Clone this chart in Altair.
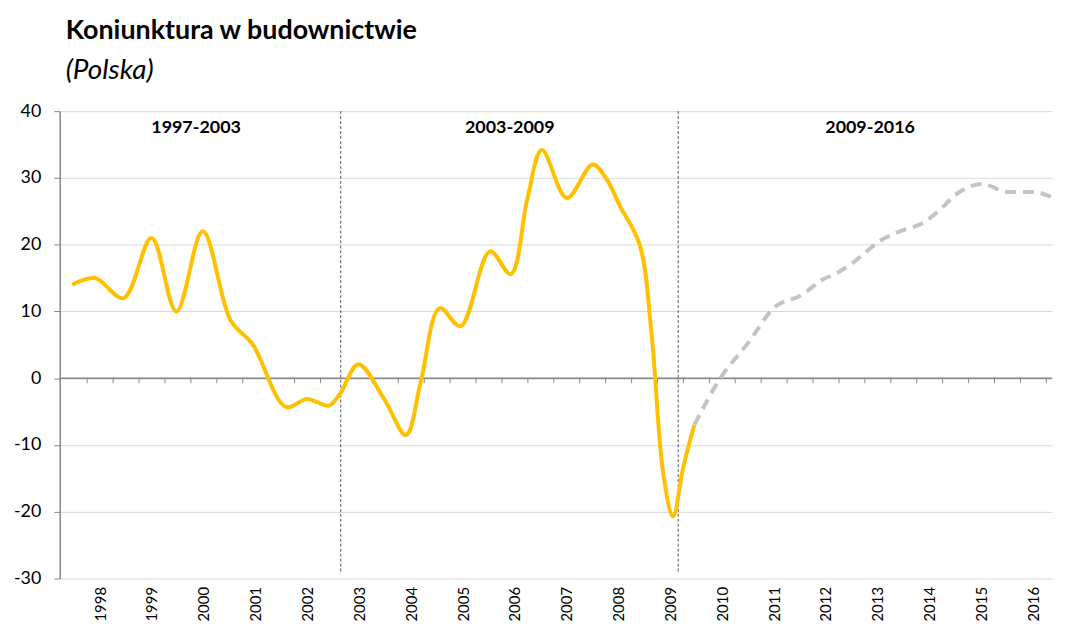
import altair as alt
import pandas as pd

# ---- data ----
title_text = "Koniunktura w budownictwie"
subtitle_text = "(Polska)"

actual_x = [1997.46, 1997.90, 1998.45, 1998.99, 1999.47, 1999.98, 2000.52, 2000.94,
            2001.58, 2001.99, 2002.41, 2002.63, 2002.98, 2003.49, 2003.90, 2004.19,
            2004.55, 2004.95, 2005.52, 2005.92, 2006.24, 2006.52, 2007.00, 2007.50,
            2007.77, 2008.02, 2008.41, 2008.63, 2008.86, 2009.05, 2009.25, 2009.46]
actual_y = [14.0, 15.0, 12.0, 21.0, 10.0, 22.0, 8.6, 5.1,
            -4.3, -3.1, -4.1, -2.3, 2.1, -3.3, -8.5, -0.3,
            10.5, 7.8, 19.0, 15.6, 26.9, 34.2, 27.0, 32.0,
            29.8, 25.9, 19.9, 7.1, -14.2, -20.7, -13.2, -7.0]

forecast_x = [2009.46, 2009.97, 2010.50, 2010.99, 2011.54, 2011.92, 2012.20, 2012.50,
              2013.07, 2013.39, 2013.90, 2014.22, 2014.47, 2015.02, 2015.50, 2016.00,
              2016.36]
forecast_y = [-7.0, 0.1, 5.3, 10.5, 12.5, 14.7, 15.7, 17.2,
              20.7, 21.9, 23.4, 25.4, 27.3, 29.1, 27.9, 27.9,
              27.1]

period_labels = ["1997-2003", "2003-2009", "2009-2016"]
period_x = [1999.85, 2005.90, 2012.85]
period_y = [37.5, 37.5, 37.5]

divider_x = [2002.64, 2009.15]

x_domain = [1997.22, 2016.36]
y_domain = [-30, 40]

year_ticks = list(range(1998, 2017))
half_ticks = [y + d for y in range(1997, 2017) for d in (0.75, 1.25)
              if y + d < x_domain[1]]
y_ticks = [-30, -20, -10, 0, 10, 20, 30, 40]

# ---- tables ----
df_actual = pd.DataFrame({"x": actual_x, "y": actual_y})
df_fc = pd.DataFrame({"x": forecast_x, "y": forecast_y})
df_periods = pd.DataFrame({"x": period_x, "y": period_y, "label": period_labels})
df_div = pd.DataFrame({"x": divider_x})
df_ticks = pd.DataFrame({"x": half_ticks})
df_zero = pd.DataFrame({"x": [x_domain[0]], "x2": [x_domain[1]], "y": [0]})

W, H = 998, 470
FONT = "Lato"
AXIS_GRAY = "#868686"

xscale = alt.Scale(domain=x_domain, nice=False, zero=False)
yscale = alt.Scale(domain=y_domain, nice=False, zero=False)

y_enc = alt.Y("y:Q", scale=yscale, axis=alt.Axis(
    values=y_ticks, title=None, grid=True, gridColor="#D9D9D9", gridWidth=1,
    domain=True, domainColor=AXIS_GRAY, domainWidth=1.5,
    ticks=True, tickColor=AXIS_GRAY, tickSize=6, tickWidth=1,
    labelFont=FONT, labelFontSize=18, labelColor="black", labelPadding=13,
    labelExpr="'' + datum.value"))

x_labels = alt.X("x:Q", scale=xscale, axis=alt.Axis(
    values=year_ticks, labelAngle=-90, labelFont=FONT,
    labelFontSize=15, labelColor="black", labelPadding=8,
    labelExpr="'' + datum.value",
    ticks=False, tickSize=0, domain=False, grid=False, title=None))

x_plain = alt.X("x:Q", scale=xscale, axis=None)

zero_line = alt.Chart(df_zero).mark_rule(
    color=AXIS_GRAY, strokeWidth=1.5
).encode(x=x_plain, x2="x2:Q", y=y_enc)

zero_ticks = alt.Chart(df_ticks).mark_rule(
    color=AXIS_GRAY, strokeWidth=1
).encode(x=x_plain, y=alt.datum(0), y2=alt.datum(-0.75))

actual = alt.Chart(df_actual).mark_line(
    color="#FFC000", strokeWidth=4, interpolate="catmull-rom"
).encode(x=x_labels, y=y_enc)

forecast = alt.Chart(df_fc).mark_line(
    color="#C4C4C4", strokeWidth=4, strokeDash=[11, 7], interpolate="monotone"
).encode(x=x_plain, y=y_enc)

dividers = alt.Chart(df_div).mark_rule(
    color="#595959", strokeWidth=1, strokeDash=[3, 2]
).encode(x=x_plain, y=alt.datum(40), y2=alt.datum(-29.3))

periods = alt.Chart(df_periods).mark_text(
    font=FONT, fontSize=18, fontWeight="bold", color="black"
).encode(x=x_plain, y=alt.Y("y:Q", scale=yscale), text="label:N")

chart = alt.layer(
    zero_line, zero_ticks, dividers, actual, forecast, periods
).resolve_axis(
    x="independent"
).properties(
    width=W, height=H,
    padding={"left": 5, "top": 7, "right": 0, "bottom": 0},
    title=alt.TitleParams(
        text=title_text, subtitle=subtitle_text, anchor="start", frame="group",
        dx=6, font=FONT, fontSize=27, fontWeight="bold", color="black",
        subtitleFont=FONT, subtitleFontSize=28, subtitleFontStyle="italic",
        subtitleColor="black", subtitlePadding=13, offset=16),
).configure_view(stroke=None)

chart.save("out.html", embed_options={"renderer": "svg", "actions": False})
